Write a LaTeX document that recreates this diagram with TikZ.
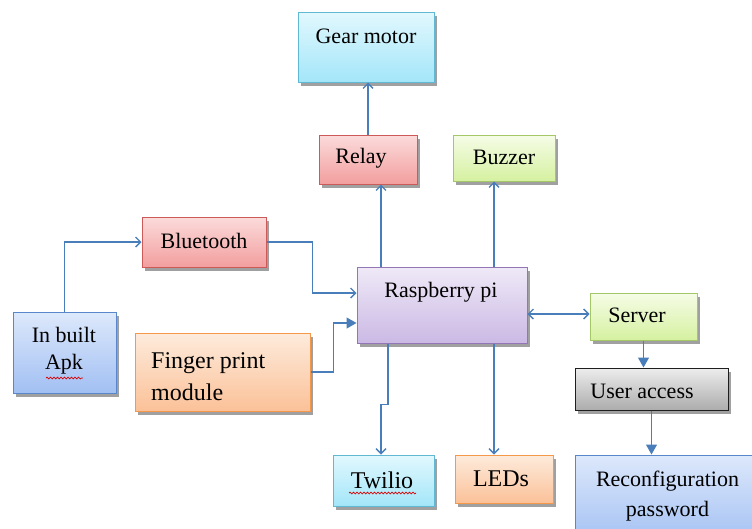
\documentclass[tikz,border=0pt]{standalone}
\usepackage{fontspec}
\setmainfont{Liberation Serif}
\newfontfamily\diagfont{Liberation Serif}
\usetikzlibrary{arrows.meta,decorations.pathmorphing}
\definecolor{linkblue}{RGB}{74,126,187}
\definecolor{shadowgrey}{RGB}{160,160,160}
\definecolor{cyantop}{RGB}{226,248,254}\definecolor{cyanbot}{RGB}{163,230,249}\definecolor{cyanline}{RGB}{96,184,210}
\definecolor{redtop}{RGB}{251,219,219}\definecolor{redbot}{RGB}{243,158,158}\definecolor{redline}{RGB}{204,90,88}
\definecolor{greentop}{RGB}{246,252,231}\definecolor{greenbot}{RGB}{213,241,160}\definecolor{greenline}{RGB}{164,200,104}
\definecolor{violettop}{RGB}{239,233,247}\definecolor{violetbot}{RGB}{203,185,228}\definecolor{violetline}{RGB}{146,118,182}
\definecolor{bluetop}{RGB}{221,232,251}\definecolor{bluebot}{RGB}{162,192,243}\definecolor{blueline}{RGB}{88,135,204}
\definecolor{orangetop}{RGB}{253,235,220}\definecolor{orangebot}{RGB}{251,193,152}\definecolor{orangeline}{RGB}{246,152,74}
\definecolor{greytop}{RGB}{237,237,237}\definecolor{greybot}{RGB}{172,172,172}\definecolor{greyline}{RGB}{30,30,30}
\tikzstyle{block}=[draw,line width=1pt,inner sep=0pt,preaction={draw=none,fill=shadowgrey,transform canvas={xshift=2.5pt,yshift=-3.5pt}}]
\tikzstyle{cyanbox}=[block,draw=cyanline,top color=cyantop,bottom color=cyanbot]
\tikzstyle{redbox}=[block,draw=redline,top color=redtop,bottom color=redbot]
\tikzstyle{greenbox}=[block,draw=greenline,top color=greentop,bottom color=greenbot]
\tikzstyle{violetbox}=[block,draw=violetline,top color=violettop,bottom color=violetbot]
\tikzstyle{bluebox}=[block,draw=blueline,top color=bluetop,bottom color=bluebot]
\tikzstyle{orangebox}=[block,draw=orangeline,top color=orangetop,bottom color=orangebot]
\tikzstyle{greybox}=[block,draw=greyline,top color=greytop,bottom color=greybot]
\tikzstyle{txt}=[inner sep=0pt,font=\diagfont\fontsize{22}{24}\selectfont]
\tikzstyle{bigtxt}=[inner sep=0pt,font=\diagfont\fontsize{24}{32}\selectfont]
\tikzstyle{flow}=[draw=linkblue,line width=1.3pt,-{Straight Barb[length=5pt,width=10pt]}]
\tikzstyle{flowboth}=[draw=linkblue,line width=1.3pt,{Straight Barb[length=5pt,width=10pt]}-{Straight Barb[length=5pt,width=10pt]}]
\tikzstyle{flowfill}=[draw=linkblue,line width=1.3pt,-{Triangle[length=10pt,width=11pt]}]
\tikzstyle{spell}=[draw=red!85!black,line width=0.7pt,decorate,decoration={snake,amplitude=0.9pt,segment length=3.5pt}]

\begin{document}
\begin{tikzpicture}[x=1pt,y=-1pt]
\useasboundingbox (0,0) rectangle (752,528);
% boxes
\node [cyanbox,minimum width=136pt,minimum height=70pt] (gear) at (366,47) {};
\node [redbox,minimum width=98pt,minimum height=49pt] (relay) at (368,159.5) {};
\node [greenbox,minimum width=102pt,minimum height=46pt] (buzzer) at (504,158) {};
\node [redbox,minimum width=124pt,minimum height=50pt] (bt) at (204,242) {};
\node [violetbox,minimum width=170pt,minimum height=76pt] (rpi) at (442,305) {};
\node [bluebox,minimum width=103pt,minimum height=81pt] (apk) at (64.5,352.5) {};
\node [orangebox,minimum width=175pt,minimum height=78pt] (fp) at (222.5,372) {};
\node [greenbox,minimum width=107pt,minimum height=47pt] (server) at (643.5,316.5) {};
\node [greybox,minimum width=153pt,minimum height=42pt] (ua) at (651.5,389) {};
\node [cyanbox,minimum width=101pt,minimum height=51pt] (tw) at (383.5,480.5) {};
\node [orangebox,minimum width=98pt,minimum height=48pt] (leds) at (504,479) {};
\node [bluebox,minimum width=200pt,minimum height=90pt] (rc) at (675,500) {};

% texts
\node [txt] (gear-t) at (366,36) {Gear motor};
\node [txt] (relay-t) at (361,158) {Relay};
\node [txt] (buzzer-t) at (504,157) {Buzzer};
\node [txt] (bt-t) at (204,241) {Bluetooth};
\node [txt] (rpi-t) at (441,292) {Raspberry pi};
\node [txt,align=center,font=\diagfont\fontsize{22}{27}\selectfont] (apk-t) at (64,351) {In built\\Apk};
\node [bigtxt,align=left,anchor=west] (fp-t) at (151,377) {Finger print\\module};
\node [txt] (server-t) at (637,315) {Server};
\node [txt] (ua-t) at (642,391) {User access};
\node [bigtxt] (tw-t) at (382,480) {Twilio};
\node [bigtxt] (leds-t) at (501,479) {LEDs};
\node [txt,align=center,font=\diagfont\fontsize{22}{30}\selectfont] (rc-t) at (667.5,496) {Reconfiguration\\password};

% spelling marks
\draw [spell] (46,378) -- (83,378);
\draw [spell] (349,493) -- (416,493);

% links
\draw [flow] (relay.north) -- (relay.north |- gear.south);
\draw [flow] ([xshift=-61pt]rpi.north) -- ([xshift=-61pt]rpi.north |- relay.south);
\draw [flow] ([xshift=52pt]rpi.north) -- ([xshift=52pt]rpi.north |- buzzer.south);
\draw [flow] (apk.north) |- (bt.west);
\draw [flow] (bt.east) -- ++(46,0) |- ([yshift=12pt]rpi.west);
\draw [flowfill] (fp.east) -- ++(23,0) |- ([yshift=-18pt]rpi.west);
\draw [flowboth] ([yshift=-9pt]rpi.east) -- ([yshift=-9pt]rpi.east -| server.west);
\draw [flowfill] (server.south) -- (server.south |- ua.north);
\draw [flowfill] (ua.south) -- (ua.south |- rc.north);
\draw [flow] ([xshift=-54pt]rpi.south) -- ++(0,61) -| ([xshift=-2.5pt]tw.north);
\draw [flow] ([xshift=52pt]rpi.south) -- ([xshift=52pt]rpi.south |- leds.north);
\end{tikzpicture}
\end{document}
